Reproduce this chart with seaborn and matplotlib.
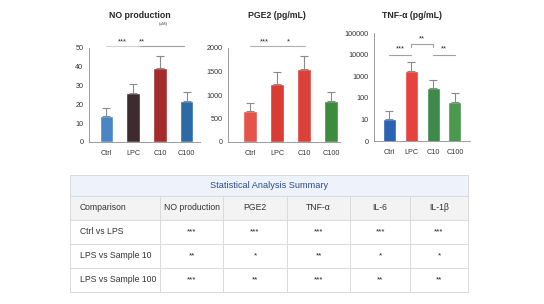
import numpy as np
import pandas as pd
import seaborn as sns
from matplotlib import pyplot as plt
from matplotlib.patches import Rectangle

groups = ['Ctrl', 'LPC', 'C10', 'C100']

no_vals = [14, 26, 39.5, 22]
no_err = [4, 5, 6, 4.5]
no_colors = ['#4a86c6', '#3d2b2f', '#a52a2a', '#2c6aa6']

pge2_vals = [650, 1240, 1560, 880]
pge2_err = [170, 250, 270, 190]
pge2_colors = ['#e5534b', '#d93b35', '#db4039', '#3c8c3c']

tnf_vals = [10, 1700, 270, 65]
tnf_err = [15, 2800, 430, 95]
tnf_colors = ['#2a62b5', '#e8423e', '#3e8a4a', '#4a994e']
tnf_ticks = [1, 10, 100, 1000, 10000, 100000]
tnf_ticklabels = ['0', '10', '100', '1000', '10000', '100000']

table_title = 'Statistical Analysis Summary'
table_cols = ['Comparison', 'NO production', 'PGE2', 'TNF-α', 'IL-6', 'IL-1β']
table_rows = [
    ['Ctrl vs LPS', '***', '***', '***', '***', '***'],
    ['LPS vs Sample 10', '**', '*', '**', '*', '*'],
    ['LPS vs Sample 100', '***', '**', '***', '**', '**'],
]

sns.set_style('white')
plt.rcParams['font.family'] = ['Liberation Sans', 'DejaVu Sans']

fig = plt.figure(figsize=(5.44, 3.04), dpi=100)


def bars(rect, vals, errs, colors, width, xlim):
    ax = fig.add_axes(rect)
    df = pd.DataFrame({'group': groups, 'value': vals})
    sns.barplot(data=df, x='group', y='value', hue='group', palette=colors,
                width=width, saturation=1, legend=False, ax=ax)
    ax.errorbar(range(len(groups)), vals, yerr=[[0] * len(errs), errs],
                fmt='none', ecolor='#8a8a8a', elinewidth=0.8, capsize=3, capthick=0.8)
    ax.set_xlim(*xlim)
    ax.set_xlabel('')
    ax.set_ylabel('')
    sns.despine(ax=ax)
    for s in ['left', 'bottom']:
        ax.spines[s].set_color('#8c8c8c')
        ax.spines[s].set_linewidth(0.6)
    ax.tick_params(axis='both', labelsize=5.2, length=2, width=0.5, color='#8c8c8c',
                   pad=2, labelcolor='#333333')
    ax.tick_params(axis='x', pad=4)
    return ax


# NO production
ax1 = bars([89 / 544, 1 - 142 / 304, 111 / 544, 94 / 304], no_vals, no_err, no_colors, 0.5, (-0.65, 3.5))
ax1.set_ylim(0, 50)
ax1.set_yticks([0, 10, 20, 30, 40, 50])
ax1.plot([0, 1.25], [51, 51], color='#d0d0d0', lw=0.8, clip_on=False)
ax1.plot([1.25, 2.9], [51, 51], color='#a0a0a0', lw=0.8, clip_on=False)
ax1.text(0.58, 51.6, '***', ha='center', va='bottom', fontsize=5.5, clip_on=False)
ax1.text(1.32, 51.6, '**', ha='center', va='bottom', fontsize=5.5, clip_on=False)

# PGE2
ax2 = bars([228 / 544, 1 - 142 / 304, 112 / 544, 94 / 304], pge2_vals, pge2_err, pge2_colors, 0.5, (-0.81, 3.33))
ax2.set_ylim(0, 2000)
ax2.set_yticks([0, 500, 1000, 1500, 2000])
ax2.plot([0, 2.05], [2043, 2043], color='#b0b0b0', lw=0.8, clip_on=False)
ax2.text(0.55, 2065, '***', ha='center', va='bottom', fontsize=5.5, clip_on=False)
ax2.text(1.43, 2065, '*', ha='center', va='bottom', fontsize=5.5, clip_on=False)

# TNF-alpha
ax3 = bars([374 / 544, 1 - 141 / 304, 96 / 544, 108 / 304], tnf_vals, tnf_err, tnf_colors, 0.6, (-0.71, 3.69))
ax3.set_yscale('log')
ax3.set_ylim(1, 100000)
ax3.set_yticks(tnf_ticks)
ax3.set_yticklabels(tnf_ticklabels)
ax3.minorticks_off()
ax3.plot([0, 1], [10000, 10000], color='#a0a0a0', lw=0.8, clip_on=False)
ax3.text(0.5, 12500, '***', ha='center', va='bottom', fontsize=5.5, clip_on=False)
ax3.plot([1, 1, 2, 2], [23000, 30000, 30000, 23000], color='#a0a0a0', lw=0.8, clip_on=False)
ax3.text(1.5, 37000, '**', ha='center', va='bottom', fontsize=5.5, clip_on=False)
ax3.plot([2, 3], [10000, 10000], color='#a0a0a0', lw=0.8, clip_on=False)
ax3.text(2.5, 12500, '**', ha='center', va='bottom', fontsize=5.5, clip_on=False)

fig.text(140 / 544, 1 - 15 / 304, 'NO production', ha='center', va='center', fontsize=6.3, weight='bold')
fig.text(163 / 544, 1 - 24 / 304, '(μM)', ha='center', va='center', fontsize=3.2, color='#444444')
fig.text(277 / 544, 1 - 15 / 304, 'PGE2 (pg/mL)', ha='center', va='center', fontsize=6.3, weight='bold')
fig.text(412 / 544, 1 - 15 / 304, 'TNF-α (pg/mL)', ha='center', va='center', fontsize=6.3, weight='bold')

# summary table, drawn in pixel coordinates
axt = fig.add_axes([0, 0, 1, 1], zorder=-1)
axt.set_xlim(0, 544)
axt.set_ylim(304, 0)
axt.axis('off')

col_x = [70, 160, 223, 287, 350, 410, 468]
row_y = [175, 196, 220, 244, 268, 292]
line_c = '#dadada'

axt.add_patch(Rectangle((col_x[0], row_y[0]), col_x[-1] - col_x[0], row_y[1] - row_y[0],
                        facecolor='#eef3fb', edgecolor='none'))
axt.add_patch(Rectangle((col_x[0], row_y[1]), col_x[-1] - col_x[0], row_y[2] - row_y[1],
                        facecolor='#f3f3f3', edgecolor='none'))
axt.add_patch(Rectangle((col_x[0], row_y[0]), col_x[-1] - col_x[0], row_y[-1] - row_y[0],
                        facecolor='none', edgecolor=line_c, lw=0.7))
for y in row_y[1:-1]:
    axt.plot([col_x[0], col_x[-1]], [y, y], color=line_c, lw=0.7)
for x in col_x[1:-1]:
    axt.plot([x, x], [row_y[1], row_y[-1]], color=line_c, lw=0.7)

axt.text((col_x[0] + col_x[-1]) / 2, (row_y[0] + row_y[1]) / 2, table_title,
         ha='center', va='center', fontsize=6.6, color='#2b4b8c')

for j, name in enumerate(table_cols):
    yc = (row_y[1] + row_y[2]) / 2
    if j == 0:
        axt.text(col_x[0] + 10, yc, name, ha='left', va='center', fontsize=6.2, color='#333333')
    else:
        axt.text((col_x[j] + col_x[j + 1]) / 2, yc, name, ha='center', va='center',
                 fontsize=6.2, color='#333333')

for i, row in enumerate(table_rows):
    yc = (row_y[i + 2] + row_y[i + 3]) / 2
    for j, cell in enumerate(row):
        if j == 0:
            axt.text(col_x[0] + 10, yc, cell, ha='left', va='center', fontsize=6.2, color='#333333')
        else:
            axt.text((col_x[j] + col_x[j + 1]) / 2, yc, cell, ha='center', va='center',
                     fontsize=5.8, color='#222222')

plt.savefig('out.png', dpi=100)
